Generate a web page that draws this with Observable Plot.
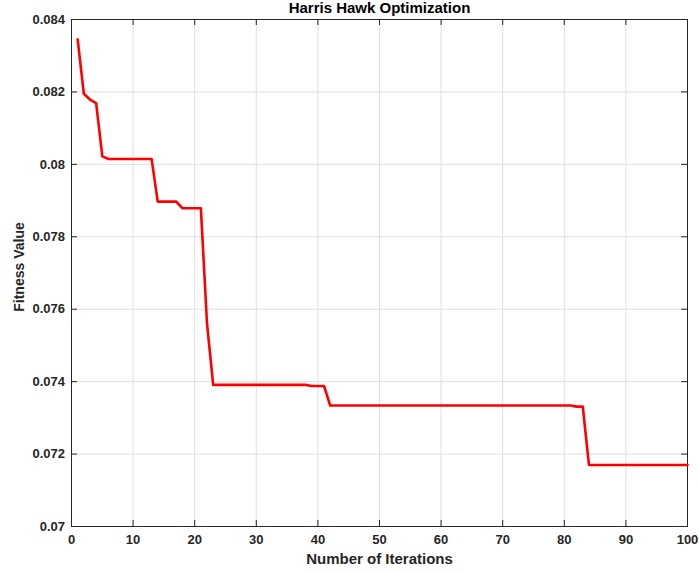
<!DOCTYPE html>
<html>
<head>
<meta charset="utf-8">
<script src="https://cdn.jsdelivr.net/npm/d3@7"></script>
<script src="https://cdn.jsdelivr.net/npm/@observablehq/plot@0.6"></script>
<style>
  html, body { margin: 0; padding: 0; background: #fff; }
  #chart { width: 699px; height: 573px; }
</style>
</head>
<body>
<div id="chart"></div>
<script>
const titleText = "Harris Hawk Optimization";
const xLabel = "Number of Iterations";
const yLabel = "Fitness Value";

const iterations = [
  1, 2, 3, 4, 5, 6, 7, 8, 9, 10,
  11, 12, 13, 14, 15, 16, 17, 18, 19, 20,
  21, 22, 23, 24, 25, 26, 27, 28, 29, 30,
  31, 32, 33, 34, 35, 36, 37, 38, 39, 40,
  41, 42, 43, 44, 45, 46, 47, 48, 49, 50,
  51, 52, 53, 54, 55, 56, 57, 58, 59, 60,
  61, 62, 63, 64, 65, 66, 67, 68, 69, 70,
  71, 72, 73, 74, 75, 76, 77, 78, 79, 80,
  81, 82, 83, 84, 85, 86, 87, 88, 89, 90,
  91, 92, 93, 94, 95, 96, 97, 98, 99, 100
];

const fitness = [
  0.08345, 0.08195, 0.08179, 0.08169, 0.08022, 0.08015, 0.08015, 0.08015, 0.08015, 0.08015,
  0.08015, 0.08015, 0.08015, 0.07897, 0.07897, 0.07897, 0.07897, 0.07879, 0.07879, 0.07879,
  0.07879, 0.07560, 0.07391, 0.07391, 0.07391, 0.07391, 0.07391, 0.07391, 0.07391, 0.07391,
  0.07391, 0.07391, 0.07391, 0.07391, 0.07391, 0.07391, 0.07391, 0.07391, 0.07388, 0.07388,
  0.07388, 0.07334, 0.07334, 0.07334, 0.07334, 0.07334, 0.07334, 0.07334, 0.07334, 0.07334,
  0.07334, 0.07334, 0.07334, 0.07334, 0.07334, 0.07334, 0.07334, 0.07334, 0.07334, 0.07334,
  0.07334, 0.07334, 0.07334, 0.07334, 0.07334, 0.07334, 0.07334, 0.07334, 0.07334, 0.07334,
  0.07334, 0.07334, 0.07334, 0.07334, 0.07334, 0.07334, 0.07334, 0.07334, 0.07334, 0.07334,
  0.07334, 0.07331, 0.07331, 0.07170, 0.07170, 0.07170, 0.07170, 0.07170, 0.07170, 0.07170,
  0.07170, 0.07170, 0.07170, 0.07170, 0.07170, 0.07170, 0.07170, 0.07170, 0.07170, 0.07170
];

const xTicks = [0, 10, 20, 30, 40, 50, 60, 70, 80, 90, 100];
const yTicks = [0.07, 0.072, 0.074, 0.076, 0.078, 0.08, 0.082, 0.084];

const data = iterations.map((x, i) => ({x, y: fitness[i]}));

const W = 699, H = 573;
const mL = 71, mR = 12, mT = 19, mB = 47;
const fw = W - mL - mR, fh = H - mT - mB;
const ink = "#262626";
const gridColor = "#dfdfdf";

const chart = Plot.plot({
  width: W,
  height: H,
  marginLeft: mL,
  marginRight: mR,
  marginTop: mT,
  marginBottom: mB,
  style: {fontFamily: "'Liberation Sans', Arial, sans-serif", fontSize: "13px", fontWeight: "bold", color: ink, background: "#fff"},
  x: {domain: [0, 100], axis: null},
  y: {domain: [0.07, 0.084], axis: null},
  marks: [
    Plot.gridX(xTicks, {stroke: gridColor, strokeOpacity: 1}),
    Plot.gridY(yTicks, {stroke: gridColor, strokeOpacity: 1}),
    Plot.tickX(xTicks, {x: d => d, insetTop: fh - 6, stroke: ink}),
    Plot.tickX(xTicks, {x: d => d, insetBottom: fh - 6, stroke: ink}),
    Plot.tickY(yTicks, {y: d => d, insetRight: fw - 6, stroke: ink}),
    Plot.tickY(yTicks, {y: d => d, insetLeft: fw - 6, stroke: ink}),
    Plot.frame({stroke: ink, strokeWidth: 1}),
    Plot.axisX(xTicks, {anchor: "bottom", tickSize: 0, tickPadding: 8, tickFormat: d => String(d), label: null, fill: ink, fontWeight: "bold"}),
    Plot.axisY(yTicks, {anchor: "left", tickSize: 0, tickPadding: 6.5, tickFormat: d => String(+d.toFixed(3)), label: null, fill: ink, fontWeight: "bold"}),
    Plot.line(data, {x: "x", y: "y", stroke: "#ff0000", strokeWidth: 2.6}),
    Plot.text([titleText], {frameAnchor: "top", lineAnchor: "middle", textAnchor: "middle", dy: -11, fontSize: 15, fontWeight: "bold", fill: "#000"}),
    Plot.text([xLabel], {frameAnchor: "bottom", lineAnchor: "middle", textAnchor: "middle", dy: 33, fontSize: 15, fontWeight: "bold", fill: ink}),
    Plot.text([yLabel], {frameAnchor: "left", lineAnchor: "middle", textAnchor: "middle", dx: -52, dy: -6, rotate: -90, fontSize: 14, fontWeight: "bold", fill: ink})
  ]
});
document.getElementById("chart").appendChild(chart);
</script>
</body>
</html>
